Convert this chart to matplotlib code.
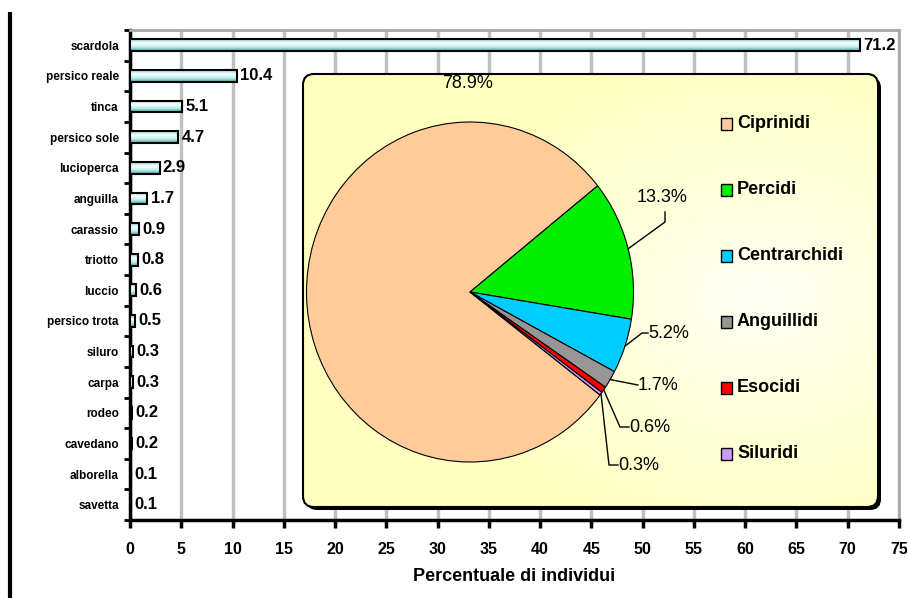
import numpy as np
import matplotlib
matplotlib.use('Agg')
import matplotlib.pyplot as plt
from matplotlib.patches import FancyBboxPatch, Rectangle
from matplotlib.colors import LinearSegmentedColormap

# percentuale di individui per specie
specie = ['scardola', 'persico reale', 'tinca', 'persico sole', 'lucioperca',
          'anguilla', 'carassio', 'triotto', 'luccio', 'persico trota',
          'siluro', 'carpa', 'rodeo', 'cavedano', 'alborella', 'savetta']
percentuali = [71.2, 10.4, 5.1, 4.7, 2.9, 1.7, 0.9, 0.8, 0.6, 0.5,
               0.3, 0.3, 0.2, 0.2, 0.1, 0.1]

# ripartizione per famiglia
famiglie = ['Ciprinidi', 'Percidi', 'Centrarchidi', 'Anguillidi', 'Esocidi', 'Siluridi']
quote = [78.9, 13.3, 5.2, 1.7, 0.6, 0.3]
colori = ['#ffcc99', '#00ee00', '#00ccff', '#969696', '#ff0000', '#cc99ff']

W, H = 907, 598
sans = ['Liberation Sans', 'DejaVu Sans']

fig = plt.figure(figsize=(W / 100, H / 100), dpi=100)


def px(x0, y0, x1, y1):
    return [x0 / W, 1 - y1 / H, (x1 - x0) / W, (y1 - y0) / H]


# ---- istogramma orizzontale ----
ax = fig.add_axes(px(130, 30, 899, 520))
y = np.arange(len(specie))[::-1]
bars = ax.barh(y, percentuali, height=0.38, facecolor='none',
               edgecolor='black', linewidth=1.5, zorder=3)

grad = LinearSegmentedColormap.from_list(
    'barra', ['#3fa8a8', '#bfeeee', '#ffffff', '#8ad8d8'])
for b in bars:
    x0, y0 = b.get_x(), b.get_y()
    im = ax.imshow(np.linspace(0, 1, 30).reshape(-1, 1), cmap=grad,
                   aspect='auto', origin='lower', zorder=2.9,
                   extent=(x0, x0 + b.get_width(), y0, y0 + b.get_height()))
    im.set_clip_path(b)

for yi, v in zip(y, percentuali):
    ax.text(v + 0.3, yi, f'{v:.1f}', va='center', ha='left',
            fontsize=12, fontweight='bold', family=sans)

ax.set_xlim(0, 75)
ax.set_ylim(-0.39, 15.49)
ax.set_xticks(range(0, 76, 5))
ax.set_yticks(y)
ax.set_yticklabels(specie, fontsize=8.5, fontweight='bold', family=sans)
ax.set_yticks(np.arange(-0.5, 16, 1), minor=True)
for lab in ax.get_xticklabels():
    lab.set_fontweight('bold')
    lab.set_fontsize(11.5)
    lab.set_family(sans)
ax.tick_params(axis='x', direction='out', length=6, width=2.5, pad=10)
ax.tick_params(axis='y', which='major', length=0, pad=8)
ax.tick_params(axis='y', which='minor', length=4, width=2, direction='out')
ax.xaxis.grid(True, color='#c0c0c0', linewidth=2.5)
ax.set_axisbelow(True)
for s in ['left', 'bottom']:
    ax.spines[s].set_linewidth(2.5)
for s in ['top', 'right']:
    ax.spines[s].set_color('#a8a8a8')
    ax.spines[s].set_linewidth(2)
ax.set_xlabel('Percentuale di individui', fontsize=13, fontweight='bold',
              family=sans, labelpad=8)

# ---- riquadro con la torta ----
ov = fig.add_axes([0, 0, 1, 1], zorder=2)
ov.set_xlim(0, W)
ov.set_ylim(H, 0)
ov.axis('off')
ov.patch.set_alpha(0)

ov.plot([10, 10], [12, 598], color='black', lw=3, solid_capstyle='butt')

ombra = FancyBboxPatch((306, 77), 575, 433, boxstyle='round,pad=0,rounding_size=11',
                       fc='black', ec='none')
ov.add_patch(ombra)
box = FancyBboxPatch((303, 74), 575, 433, boxstyle='round,pad=0,rounding_size=11',
                     fc='none', ec='black', lw=1.5, zorder=1.6)
ov.add_patch(box)
gx, gy = np.meshgrid(np.linspace(303, 878, 200), np.linspace(74, 507, 150))
dist = np.clip(np.hypot(gx - 760, (gy - 300) * 1.3) / 330, 0, 1)
sfondo = LinearSegmentedColormap.from_list('sfondo', ['#fffff4', '#ffffc0'])
im = ov.imshow(dist, cmap=sfondo, extent=(303, 878, 507, 74), aspect='auto',
               zorder=1.5)
im.set_clip_path(box)

pa = fig.add_axes(px(306.5, 122, 633.5, 462), zorder=3)
wedges, _ = pa.pie(quote, colors=colori, startangle=-37.3, counterclock=False,
                   wedgeprops=dict(edgecolor='black', linewidth=0.8))
pa.set_aspect('auto')
pa.set_xlim(-1, 1)
pa.set_ylim(-1, 1)

cx, cy, rx, ry = 470, 292, 163.5, 170
# gomiti delle linee guida e ancoraggio del testo (pixel)
guide = [None,
         [(665, 222), (665, 212)],
         [(642, 333), (648, 333)],
         [(638, 385)],
         [(620, 427), (629, 427)],
         [(609, 465), (618, 465)]]
testo = [(468, 84, 'center'), (662, 198, 'center'), (648, 333, 'left'),
         (638, 385, 'left'), (629, 427, 'left'), (618, 465, 'left')]

ov2 = fig.add_axes([0, 0, 1, 1], zorder=4)
ov2.set_xlim(0, W)
ov2.set_ylim(H, 0)
ov2.axis('off')
ov2.patch.set_alpha(0)

for w, q, g, (tx, ty, ha) in zip(wedges, quote, guide, testo):
    if g is not None:
        a = np.deg2rad((w.theta1 + w.theta2) / 2)
        pts = [(cx + rx * np.cos(a), cy - ry * np.sin(a))] + g
        ov2.plot([p[0] for p in pts], [p[1] for p in pts], color='black', lw=1)
    ov2.text(tx, ty, f'{q:.1f}%', ha=ha, va='center', fontsize=13, family=sans)

for i, (fam, c) in enumerate(zip(famiglie, colori)):
    yy = 124 + i * 66
    ov2.add_patch(Rectangle((721, yy - 6), 11, 12, fc=c, ec='black', lw=1))
    ov2.text(737, yy, fam, ha='left', va='center', fontsize=13,
             fontweight='bold', family=sans)

fig.savefig('out.png', dpi=100)
